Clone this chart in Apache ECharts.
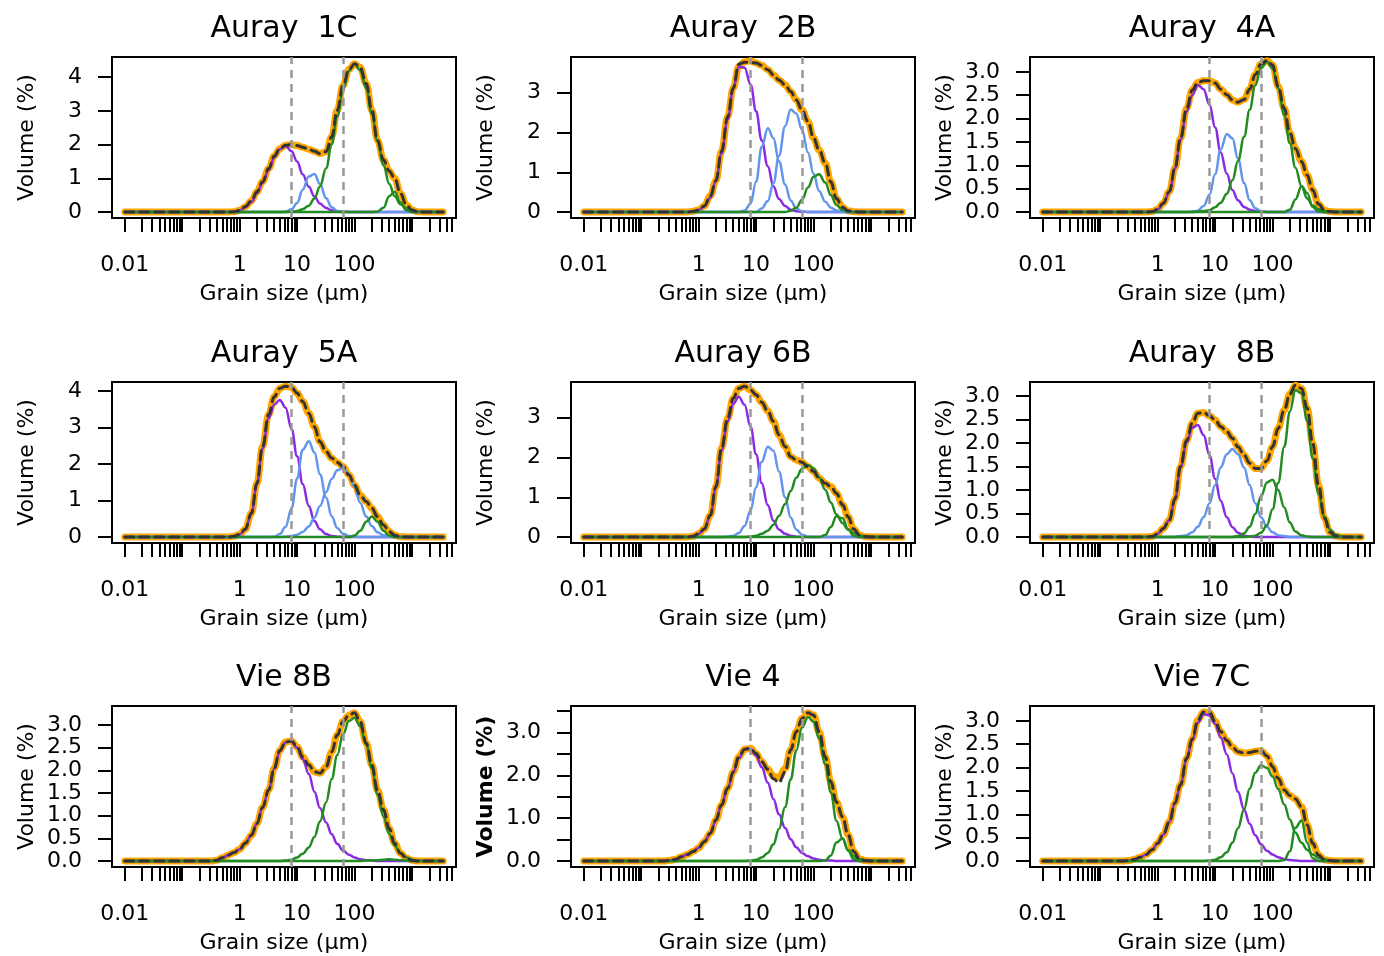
<!DOCTYPE html>
<html>
<head>
<meta charset="utf-8">
<title>Grain size distributions</title>
<script src="https://cdn.jsdelivr.net/npm/echarts@6/dist/echarts.min.js"></script>
<style>
  html, body { margin: 0; padding: 0; background: #fff; }
  #chart { width: 1384px; height: 956px; }
</style>
</head>
<body>
<div id="chart"></div>
<script>
// grain size classes (µm) shared by every curve
var sizes = [0.01, 0.25, 0.32, 0.4, 0.5, 0.63, 0.8, 1,
  1.25, 1.6, 2, 2.5, 3.2, 4, 5, 6.3, 8, 10,
  12.5, 16, 20, 25, 32, 40, 50, 63, 80, 100,
  125, 160, 200, 250, 320, 400, 500, 630, 800, 1000,
  1250, 1600, 2000, 3500];

// x axis ticks and labels (µm)
var tickMantissas = [1, 2, 3, 4, 5, 6, 7, 8, 9];
var tickDecades = [0.01, 0.1, 1, 10, 100, 1000];
var xLabelSizes = [0.01, 1, 10, 100];
var xLabelTexts = ['0.01', '1', '10', '100'];
var classLimits = [7.8, 63];

var titles = ['Auray  1C', 'Auray  2B', 'Auray  4A', 'Auray  5A', 'Auray 6B', 'Auray  8B', 'Vie 8B', 'Vie 4', 'Vie 7C'];

// ---- Auray 1C
var a1cFit = [0, 0, 0, 0, 0, 0, 0.01, 0.05,
  0.16, 0.33, 0.60, 0.90, 1.29, 1.66, 1.88, 1.98, 2.00, 1.97,
  1.92, 1.86, 1.80, 1.73, 1.79, 2.23, 3.02, 3.76, 4.23, 4.40,
  4.29, 3.81, 3.02, 2.13, 1.54, 1.22, 1.00, 0.55, 0.21, 0.06,
  0.01, 0, 0, 0];
var a1cPurple = [0, 0, 0, 0, 0, 0, 0.01, 0.04,
  0.14, 0.30, 0.56, 0.86, 1.25, 1.62, 1.86, 1.96, 1.80, 1.50,
  1.12, 0.75, 0.46, 0.25, 0.12, 0.05, 0.02, 0.01, 0, 0,
  0, 0, 0, 0, 0, 0, 0, 0, 0, 0,
  0, 0, 0, 0];
var a1cBlue = [0, 0, 0, 0, 0, 0, 0, 0,
  0, 0, 0, 0, 0, 0, 0, 0.01, 0.08, 0.27,
  0.66, 1.05, 1.13, 0.83, 0.41, 0.14, 0.03, 0, 0, 0,
  0, 0, 0, 0, 0, 0, 0, 0, 0, 0,
  0, 0, 0, 0];
var a1cGreen1 = [0, 0, 0, 0, 0, 0, 0, 0,
  0, 0, 0, 0, 0, 0, 0, 0, 0.01, 0.03,
  0.08, 0.19, 0.40, 0.76, 1.30, 2.01, 2.83, 3.62, 4.19, 4.40,
  4.20, 3.66, 2.91, 2.11, 1.39, 0.84, 0.47, 0.23, 0.11, 0.04,
  0.01, 0, 0, 0];
var a1cGreen2 = [0, 0, 0, 0, 0, 0, 0, 0,
  0, 0, 0, 0, 0, 0, 0, 0, 0, 0,
  0, 0, 0, 0, 0, 0, 0, 0, 0, 0,
  0, 0, 0, 0.01, 0.13, 0.47, 0.60, 0.28, 0.05, 0,
  0, 0, 0, 0];

// ---- Auray 2B
var a2bFit = [0, 0, 0, 0, 0, 0, 0.02, 0.05,
  0.15, 0.41, 0.79, 1.52, 2.40, 3.12, 3.66, 3.78, 3.80, 3.75,
  3.69, 3.58, 3.45, 3.32, 3.20, 3.03, 2.82, 2.57, 2.28, 1.86,
  1.56, 1.23, 0.76, 0.34, 0.12, 0.03, 0.01, 0, 0, 0,
  0, 0, 0, 0];
var a2bMeas = [0, 0, 0, 0, 0, 0, 0.02, 0.05,
  0.15, 0.41, 0.79, 1.52, 2.40, 3.12, 3.72, 3.77, 3.76, 3.75,
  3.69, 3.58, 3.45, 3.32, 3.20, 3.03, 2.82, 2.57, 2.28, 1.86,
  1.56, 1.23, 0.76, 0.34, 0.12, 0.03, 0.01, 0, 0, 0,
  0, 0, 0, 0];
var a2bPurple = [0, 0, 0, 0, 0, 0, 0.01, 0.05,
  0.14, 0.36, 0.79, 1.47, 2.33, 3.10, 3.65, 3.63, 3.21, 2.54,
  1.80, 1.15, 0.65, 0.33, 0.15, 0.06, 0.02, 0.01, 0, 0,
  0, 0, 0, 0, 0, 0, 0, 0, 0, 0,
  0, 0, 0, 0];
var a2bBlue1 = [0, 0, 0, 0, 0, 0, 0, 0,
  0, 0, 0, 0, 0, 0, 0, 0.04, 0.21, 0.76,
  1.64, 2.11, 1.86, 1.28, 0.69, 0.29, 0.09, 0.02, 0, 0,
  0, 0, 0, 0, 0, 0, 0, 0, 0, 0,
  0, 0, 0, 0];
var a2bBlue2 = [0, 0, 0, 0, 0, 0, 0, 0,
  0, 0, 0, 0, 0, 0, 0, 0, 0, 0,
  0.09, 0.28, 0.72, 1.41, 2.16, 2.58, 2.48, 2.07, 1.50, 0.96,
  0.53, 0.26, 0.11, 0.04, 0.01, 0, 0, 0, 0, 0,
  0, 0, 0, 0];
var a2bGreen = [0, 0, 0, 0, 0, 0, 0, 0,
  0, 0, 0, 0, 0, 0, 0, 0, 0, 0,
  0, 0, 0, 0, 0, 0.03, 0.11, 0.31, 0.62, 0.89,
  0.95, 0.74, 0.42, 0.18, 0.05, 0.01, 0, 0, 0, 0,
  0, 0, 0, 0];

// ---- Auray 4A
var a4aFit = [0, 0, 0, 0, 0, 0, 0.01, 0.06,
  0.19, 0.44, 0.94, 1.58, 2.22, 2.61, 2.77, 2.81, 2.81, 2.76,
  2.63, 2.51, 2.40, 2.35, 2.41, 2.63, 2.94, 3.17, 3.24, 3.15,
  2.69, 2.22, 1.69, 1.36, 1.08, 0.79, 0.47, 0.17, 0.04, 0.01,
  0, 0, 0, 0];
var a4aPurple = [0, 0, 0, 0, 0, 0, 0.01, 0.05,
  0.18, 0.43, 0.93, 1.55, 2.15, 2.50, 2.72, 2.63, 2.30, 1.81,
  1.28, 0.82, 0.47, 0.25, 0.11, 0.05, 0.02, 0.01, 0, 0,
  0, 0, 0, 0, 0, 0, 0, 0, 0, 0,
  0, 0, 0, 0];
var a4aBlue = [0, 0, 0, 0, 0, 0, 0, 0,
  0, 0, 0, 0, 0, 0.01, 0.03, 0.13, 0.37, 0.81,
  1.34, 1.67, 1.58, 1.14, 0.62, 0.25, 0.08, 0.02, 0, 0,
  0, 0, 0, 0, 0, 0, 0, 0, 0, 0,
  0, 0, 0, 0];
var a4aGreen1 = [0, 0, 0, 0, 0, 0, 0, 0,
  0, 0, 0, 0, 0, 0, 0.01, 0.02, 0.04, 0.10,
  0.20, 0.39, 0.68, 1.09, 1.61, 2.19, 2.71, 3.08, 3.22, 3.07,
  2.65, 2.07, 1.47, 0.95, 0.55, 0.29, 0.14, 0.06, 0.02, 0.01,
  0, 0, 0, 0];
var a4aGreen2 = [0, 0, 0, 0, 0, 0, 0, 0,
  0, 0, 0, 0, 0, 0, 0, 0, 0, 0,
  0, 0, 0, 0, 0, 0, 0, 0, 0, 0,
  0, 0, 0.05, 0.27, 0.55, 0.41, 0.11, 0.01, 0, 0,
  0, 0, 0, 0];

// ---- Auray 5A
var a5aFit = [0, 0, 0, 0, 0, 0, 0.02, 0.07,
  0.21, 0.65, 1.47, 2.47, 3.36, 3.84, 4.07, 4.13, 4.09, 3.94,
  3.71, 3.39, 3.02, 2.61, 2.34, 2.16, 2.04, 1.93, 1.70, 1.42,
  1.15, 0.97, 0.79, 0.56, 0.33, 0.15, 0.05, 0.01, 0, 0,
  0, 0, 0, 0];
var a5aPurple = [0, 0, 0, 0, 0, 0, 0.02, 0.07,
  0.21, 0.64, 1.45, 2.42, 3.25, 3.62, 3.75, 3.54, 2.96, 2.21,
  1.45, 0.85, 0.44, 0.21, 0.08, 0.03, 0.01, 0, 0, 0,
  0, 0, 0, 0, 0, 0, 0, 0, 0, 0,
  0, 0, 0, 0];
var a5aBlue1 = [0, 0, 0, 0, 0, 0, 0, 0,
  0, 0, 0, 0, 0, 0.01, 0.08, 0.28, 0.78, 1.60,
  2.39, 2.62, 2.32, 1.72, 1.08, 0.57, 0.25, 0.09, 0.03, 0.01,
  0, 0, 0, 0, 0, 0, 0, 0, 0, 0,
  0, 0, 0, 0];
var a5aBlue2 = [0, 0, 0, 0, 0, 0, 0, 0,
  0, 0, 0, 0, 0, 0, 0, 0.01, 0.03, 0.06,
  0.14, 0.29, 0.53, 0.85, 1.23, 1.59, 1.83, 1.89, 1.72, 1.37,
  0.94, 0.56, 0.30, 0.13, 0.05, 0.02, 0.01, 0, 0, 0,
  0, 0, 0, 0];
var a5aGreen = [0, 0, 0, 0, 0, 0, 0, 0,
  0, 0, 0, 0, 0, 0, 0, 0, 0, 0,
  0, 0, 0, 0, 0, 0, 0, 0, 0, 0.04,
  0.17, 0.42, 0.56, 0.42, 0.17, 0.04, 0, 0, 0, 0,
  0, 0, 0, 0];

// ---- Auray 6B
var a6bFit = [0, 0, 0, 0, 0, 0, 0.02, 0.08,
  0.20, 0.55, 1.27, 2.23, 2.99, 3.49, 3.74, 3.79, 3.70, 3.58,
  3.39, 3.17, 2.91, 2.57, 2.28, 2.02, 1.94, 1.88, 1.77, 1.65,
  1.48, 1.35, 1.27, 1.10, 0.81, 0.51, 0.20, 0.05, 0.01, 0,
  0, 0, 0, 0];
var a6bPurple = [0, 0, 0, 0, 0, 0, 0.02, 0.08,
  0.20, 0.54, 1.25, 2.18, 2.90, 3.35, 3.53, 3.33, 2.78, 2.08,
  1.36, 0.80, 0.41, 0.19, 0.08, 0.03, 0.01, 0, 0, 0,
  0, 0, 0, 0, 0, 0, 0, 0, 0, 0,
  0, 0, 0, 0];
var a6bBlue = [0, 0, 0, 0, 0, 0, 0, 0,
  0, 0, 0, 0, 0.01, 0.03, 0.10, 0.28, 0.67, 1.25,
  1.89, 2.27, 2.17, 1.65, 1.00, 0.49, 0.19, 0.06, 0.01, 0,
  0, 0, 0, 0, 0, 0, 0, 0, 0, 0,
  0, 0, 0, 0];
var a6bGreen1 = [0, 0, 0, 0, 0, 0, 0, 0,
  0, 0, 0, 0, 0, 0, 0, 0, 0.01, 0.03,
  0.08, 0.16, 0.31, 0.53, 0.83, 1.16, 1.49, 1.72, 1.81, 1.73,
  1.50, 1.19, 0.87, 0.57, 0.35, 0.19, 0.10, 0.04, 0.02, 0.01,
  0, 0, 0, 0];
var a6bGreen2 = [0, 0, 0, 0, 0, 0, 0, 0,
  0, 0, 0, 0, 0, 0, 0, 0, 0, 0,
  0, 0, 0, 0, 0, 0, 0, 0, 0, 0,
  0, 0.05, 0.25, 0.52, 0.47, 0.19, 0.03, 0, 0, 0,
  0, 0, 0, 0];

// ---- Auray 8B
var a8bFit = [0, 0, 0, 0, 0, 0, 0.01, 0.07,
  0.18, 0.36, 0.81, 1.50, 2.06, 2.42, 2.63, 2.65, 2.58, 2.49,
  2.35, 2.24, 2.10, 1.92, 1.74, 1.57, 1.46, 1.46, 1.62, 1.92,
  2.31, 2.70, 3.04, 3.23, 3.16, 2.74, 1.99, 1.11, 0.40, 0.10,
  0.02, 0, 0, 0];
var a8bPurple = [0, 0, 0, 0, 0, 0, 0.01, 0.07,
  0.18, 0.36, 0.80, 1.48, 2.01, 2.32, 2.38, 2.17, 1.74, 1.24,
  0.77, 0.42, 0.21, 0.09, 0.03, 0.01, 0, 0, 0, 0,
  0, 0, 0, 0, 0, 0, 0, 0, 0, 0,
  0, 0, 0, 0];
var a8bBlue = [0, 0, 0, 0, 0, 0, 0, 0,
  0, 0, 0, 0.02, 0.04, 0.10, 0.22, 0.42, 0.72, 1.10,
  1.48, 1.76, 1.87, 1.76, 1.48, 1.10, 0.72, 0.42, 0.22, 0.10,
  0.04, 0.02, 0, 0, 0, 0, 0, 0, 0, 0,
  0, 0, 0, 0];
var a8bGreen1 = [0, 0, 0, 0, 0, 0, 0, 0,
  0, 0, 0, 0, 0, 0, 0, 0, 0, 0,
  0, 0, 0, 0.02, 0.08, 0.22, 0.49, 0.86, 1.16, 1.22,
  1.00, 0.63, 0.31, 0.12, 0.04, 0.01, 0, 0, 0, 0,
  0, 0, 0, 0];
var a8bGreen2 = [0, 0, 0, 0, 0, 0, 0, 0,
  0, 0, 0, 0, 0, 0, 0, 0, 0, 0,
  0, 0, 0, 0, 0, 0.01, 0.03, 0.09, 0.25, 0.59,
  1.15, 1.92, 2.67, 3.12, 3.06, 2.47, 1.67, 0.92, 0.43, 0.16,
  0.05, 0.01, 0, 0];

// ---- Vie 8B
var v8bFit = [0, 0, 0, 0.02, 0.07, 0.13, 0.19, 0.26,
  0.39, 0.57, 0.83, 1.18, 1.57, 2.05, 2.44, 2.63, 2.65, 2.52,
  2.30, 2.12, 1.97, 1.94, 2.08, 2.41, 2.78, 3.08, 3.22, 3.27,
  3.08, 2.60, 2.12, 1.57, 1.13, 0.72, 0.39, 0.17, 0.06, 0.02,
  0, 0, 0, 0];
var v8bPurple = [0, 0, 0, 0.02, 0.07, 0.13, 0.19, 0.26,
  0.39, 0.57, 0.83, 1.18, 1.57, 2.04, 2.42, 2.62, 2.64, 2.50,
  2.25, 1.92, 1.53, 1.17, 0.85, 0.59, 0.38, 0.23, 0.14, 0.08,
  0.04, 0.02, 0.01, 0, 0, 0, 0, 0, 0, 0,
  0, 0, 0, 0];
var v8bGreen1 = [0, 0, 0, 0, 0, 0, 0, 0,
  0, 0, 0, 0, 0, 0, 0, 0.01, 0.03, 0.08,
  0.16, 0.30, 0.53, 0.87, 1.30, 1.81, 2.34, 2.80, 3.09, 3.16,
  2.98, 2.57, 2.04, 1.47, 0.98, 0.60, 0.34, 0.17, 0.08, 0.03,
  0.01, 0, 0, 0];
var v8bGreen2 = [0, 0, 0, 0, 0, 0, 0, 0,
  0, 0, 0, 0, 0, 0, 0, 0, 0, 0,
  0, 0, 0, 0, 0, 0, 0, 0, 0, 0,
  0, 0.01, 0.01, 0.02, 0.03, 0.04, 0.03, 0.02, 0.01, 0,
  0, 0, 0, 0];

// ---- Vie 4
var v4Fit = [0, 0, 0.02, 0.04, 0.10, 0.15, 0.22, 0.31,
  0.45, 0.65, 0.96, 1.31, 1.70, 2.08, 2.43, 2.61, 2.63, 2.51,
  2.32, 2.14, 1.98, 1.95, 2.16, 2.59, 3.02, 3.33, 3.46, 3.41,
  3.02, 2.43, 1.85, 1.38, 1.03, 0.61, 0.22, 0.05, 0.01, 0,
  0, 0, 0, 0];
var v4Meas = [0, 0, 0.02, 0.04, 0.10, 0.15, 0.22, 0.31,
  0.45, 0.65, 0.96, 1.31, 1.70, 2.08, 2.43, 2.61, 2.63, 2.51,
  2.32, 2.14, 1.92, 1.83, 2.08, 2.59, 3.02, 3.33, 3.46, 3.41,
  3.02, 2.43, 1.85, 1.38, 1.03, 0.61, 0.22, 0.05, 0.01, 0,
  0, 0, 0, 0];
var v4Purple = [0, 0, 0.02, 0.04, 0.10, 0.15, 0.22, 0.31,
  0.45, 0.65, 0.96, 1.31, 1.70, 2.07, 2.40, 2.61, 2.62, 2.46,
  2.19, 1.83, 1.45, 1.09, 0.77, 0.51, 0.32, 0.19, 0.11, 0.06,
  0.03, 0.01, 0.01, 0, 0, 0, 0, 0, 0, 0,
  0, 0, 0, 0];
var v4Green1 = [0, 0, 0, 0, 0, 0, 0, 0,
  0, 0, 0, 0, 0, 0, 0, 0, 0.01, 0.03,
  0.08, 0.19, 0.39, 0.75, 1.26, 1.90, 2.58, 3.11, 3.36, 3.25,
  2.86, 2.26, 1.60, 0.94, 0.52, 0.26, 0.11, 0.05, 0.02, 0.01,
  0, 0, 0, 0];
var v4Green2 = [0, 0, 0, 0, 0, 0, 0, 0,
  0, 0, 0, 0, 0, 0, 0, 0, 0, 0,
  0, 0, 0, 0, 0, 0, 0, 0, 0, 0,
  0, 0.01, 0.13, 0.43, 0.53, 0.24, 0.04, 0, 0, 0,
  0, 0, 0, 0];

// ---- Vie 7C
var v7cFit = [0, 0, 0.01, 0.04, 0.08, 0.14, 0.24, 0.38,
  0.56, 0.84, 1.24, 1.63, 2.20, 2.61, 3.01, 3.19, 3.18, 2.99,
  2.77, 2.58, 2.44, 2.34, 2.31, 2.32, 2.35, 2.36, 2.25, 2.02,
  1.77, 1.52, 1.40, 1.33, 1.16, 0.77, 0.38, 0.13, 0.03, 0.01,
  0, 0, 0, 0];
var v7cPurple = [0, 0, 0.01, 0.04, 0.08, 0.14, 0.24, 0.38,
  0.56, 0.84, 1.24, 1.63, 2.18, 2.58, 2.96, 3.14, 3.12, 2.94,
  2.64, 2.28, 1.88, 1.48, 1.10, 0.80, 0.55, 0.36, 0.22, 0.14,
  0.08, 0.04, 0.02, 0.01, 0, 0, 0, 0, 0, 0,
  0, 0, 0, 0];
var v7cGreen1 = [0, 0, 0, 0, 0, 0, 0, 0,
  0, 0, 0, 0, 0, 0, 0, 0, 0.01, 0.03,
  0.08, 0.19, 0.39, 0.70, 1.11, 1.55, 1.89, 2.05, 1.99, 1.81,
  1.54, 1.21, 0.89, 0.61, 0.39, 0.24, 0.14, 0.07, 0.04, 0.01,
  0, 0, 0, 0];
var v7cGreen2 = [0, 0, 0, 0, 0, 0, 0, 0,
  0, 0, 0, 0, 0, 0, 0, 0, 0, 0,
  0, 0, 0, 0, 0, 0, 0, 0, 0, 0,
  0, 0.02, 0.21, 0.71, 0.87, 0.39, 0.06, 0, 0, 0,
  0, 0, 0, 0];

// y axis ticks / labels per panel
var yTicks = [[0, 1, 2, 3, 4], [0, 1, 2, 3], [0, 0.5, 1, 1.5, 2, 2.5, 3],
  [0, 1, 2, 3, 4], [0, 1, 2, 3], [0, 0.5, 1, 1.5, 2, 2.5, 3],
  [0, 0.5, 1, 1.5, 2, 2.5, 3], [0, 0.5, 1, 1.5, 2, 2.5, 3, 3.5], [0, 0.5, 1, 1.5, 2, 2.5, 3]];
var yLabels = [[0, 1, 2, 3, 4], [0, 1, 2, 3], [0, 0.5, 1, 1.5, 2, 2.5, 3],
  [0, 1, 2, 3, 4], [0, 1, 2, 3], [0, 0.5, 1, 1.5, 2, 2.5, 3],
  [0, 0.5, 1, 1.5, 2, 2.5, 3], [0, 1, 2, 3], [0, 0.5, 1, 1.5, 2, 2.5, 3]];
var yDigits = [0, 0, 1, 0, 0, 1, 1, 1, 1];
var yTop = [4.42, 3.75, 3.19, 4.08, 3.75, 3.17, 3.29, 3.48, 3.19];

var panels = [
  { fit: a1cFit, meas: a1cFit, purple: [a1cPurple], blue: [a1cBlue], green: [a1cGreen1, a1cGreen2] },
  { fit: a2bFit, meas: a2bMeas, purple: [a2bPurple], blue: [a2bBlue1, a2bBlue2], green: [a2bGreen] },
  { fit: a4aFit, meas: a4aFit, purple: [a4aPurple], blue: [a4aBlue], green: [a4aGreen1, a4aGreen2] },
  { fit: a5aFit, meas: a5aFit, purple: [a5aPurple], blue: [a5aBlue1, a5aBlue2], green: [a5aGreen] },
  { fit: a6bFit, meas: a6bFit, purple: [a6bPurple], blue: [a6bBlue], green: [a6bGreen1, a6bGreen2] },
  { fit: a8bFit, meas: a8bFit, purple: [a8bPurple], blue: [a8bBlue], green: [a8bGreen1, a8bGreen2] },
  { fit: v8bFit, meas: v8bFit, purple: [v8bPurple], blue: [], green: [v8bGreen1, v8bGreen2] },
  { fit: v4Fit, meas: v4Meas, purple: [v4Purple], blue: [], green: [v4Green1, v4Green2] },
  { fit: v7cFit, meas: v7cFit, purple: [v7cPurple], blue: [], green: [v7cGreen1, v7cGreen2] }
];

var FONT = "'DejaVu Sans', Verdana, sans-serif";
var colLeft = [112, 571, 1030];
var rowTop = [57, 382, 706];
var boxW = 344, boxH = 161;
var xMin = -2.222, xMax = 3.766;

var xTickLogs = [];
tickDecades.forEach(function (d) {
  tickMantissas.forEach(function (m) {
    var v = m * d;
    if (v <= 5000) xTickLogs.push(Math.log10(v));
  });
});
var xLabelLogs = xLabelSizes.map(function (s) { return Math.log10(s); });

function pts(vals) {
  return sizes.map(function (s, k) { return [Math.log10(s), vals[k]]; });
}

function line(i, vals, color, width, dash) {
  return {
    type: 'line', xAxisIndex: i, yAxisIndex: i,
    data: pts(vals),
    showSymbol: false, symbol: 'none',
    smooth: 0.4, smoothMonotone: 'x',
    lineStyle: { color: color, width: width, type: dash || 'solid', cap: 'round', join: 'round' },
    emphasis: { disabled: true },
    silent: true, animation: false
  };
}

var grids = [], xAxes = [], yAxes = [], series = [], titleList = [];

panels.forEach(function (p, i) {
  var c = i % 3, r = Math.floor(i / 3);
  grids.push({
    left: colLeft[c], top: rowTop[r], width: boxW, height: boxH,
    show: true, borderColor: '#000', borderWidth: 2, backgroundColor: 'transparent',
    containLabel: false, outerBoundsMode: 'none'
  });
  titleList.push({
    text: titles[i], left: colLeft[c] + boxW / 2, top: rowTop[r] - 43,
    textAlign: 'center', padding: 0,
    textStyle: { fontFamily: FONT, fontSize: 30, fontWeight: 'normal', color: '#000' }
  });
  xAxes.push({
    type: 'value', gridIndex: i, min: xMin, max: xMax,
    name: 'Grain size (µm)', nameLocation: 'middle', nameGap: 65,
    nameTextStyle: { fontFamily: FONT, fontSize: 22, color: '#000' },
    axisLine: { show: false, onZero: false },
    axisTick: { show: true, inside: false, length: 14, customValues: xTickLogs,
      lineStyle: { color: '#000', width: 2 } },
    axisLabel: {
      customValues: xLabelLogs, margin: 36,
      fontFamily: FONT, fontSize: 22, color: '#000',
      formatter: function (v) {
        for (var k = 0; k < xLabelLogs.length; k++) {
          if (Math.abs(xLabelLogs[k] - v) < 1e-6) return xLabelTexts[k];
        }
        return '';
      }
    },
    splitLine: { show: false }
  });
  var digits = yDigits[i];
  yAxes.push({
    type: 'value', gridIndex: i, min: -0.04 * yTop[i], max: 1.04 * yTop[i],
    name: 'Volume (%)', nameLocation: 'middle', nameGap: 74, nameRotate: 90,
    nameTextStyle: { fontFamily: FONT, fontSize: 22, color: '#000',
      fontWeight: i === 7 ? 'bold' : 'normal' },
    axisLine: { show: false, onZero: false },
    axisTick: { show: true, inside: false, length: 14, customValues: yTicks[i],
      lineStyle: { color: '#000', width: 2 } },
    axisLabel: {
      customValues: yLabels[i], margin: 30,
      fontFamily: FONT, fontSize: 22, color: '#000',
      formatter: function (v) { return Number(v).toFixed(digits); }
    },
    splitLine: { show: false }
  });

  var fit = line(i, p.fit, '#FFA500', 7);
  fit.markLine = {
    silent: true, symbol: ['none', 'none'], animation: false,
    label: { show: false },
    lineStyle: { color: '#999999', width: 2.5, type: [8, 6] },
    data: classLimits.map(function (s) { return { xAxis: Math.log10(s) }; })
  };
  series.push(fit);
  p.purple.forEach(function (v) { series.push(line(i, v, '#8A2BE2', 2.5)); });
  p.blue.forEach(function (v) { series.push(line(i, v, '#6495ED', 2.5)); });
  p.green.forEach(function (v) { series.push(line(i, v, '#228B22', 2.5)); });
  series.push(line(i, p.meas, '#333333', 3, [9, 6]));
});

var myChart = echarts.init(document.getElementById('chart'));
myChart.setOption({
  animation: false,
  backgroundColor: '#fff',
  title: titleList,
  grid: grids,
  xAxis: xAxes,
  yAxis: yAxes,
  series: series
});
</script>
</body>
</html>
